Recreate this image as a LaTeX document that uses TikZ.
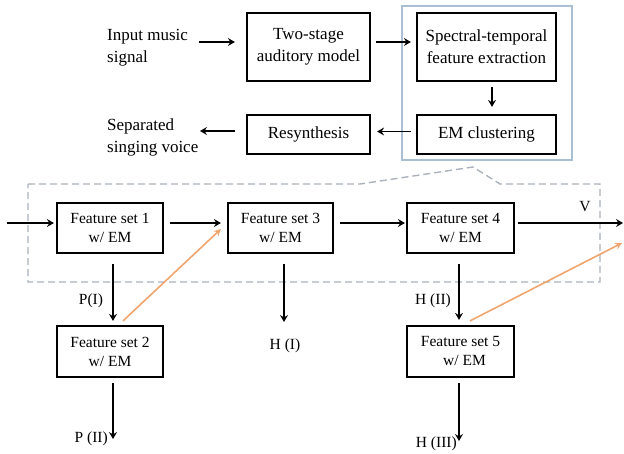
\documentclass[tikz,border=0pt]{standalone}
\usepackage{fontspec}
\setmainfont{Liberation Serif}
\usetikzlibrary{arrows.meta,calc}
\definecolor{orangec}{RGB}{240,165,110}
\definecolor{bluec}{RGB}{170,190,212}
\definecolor{dashc}{RGB}{170,178,188}
\begin{document}
\begin{tikzpicture}[x=1pt,y=-1pt,
  box/.style={draw,line width=2.2pt,align=center,inner sep=0pt,font=\fontsize{17}{22}\selectfont},
  fbox/.style={draw,line width=2.2pt,align=center,inner sep=0pt,font=\fontsize{15.5}{19}\selectfont,minimum width=106pt,minimum height=50pt},
  arr/.style={line width=1.6pt,-{Stealth[length=7pt,width=8pt,inset=2.5pt]}},
  oarr/.style={line width=1.6pt,draw=orangec,-{Stealth[length=7pt,width=7pt,inset=2.5pt]}},
  lbl/.style={font=\fontsize{15.5}{19}\selectfont,inner sep=0pt},
  txt/.style={font=\fontsize{17}{22}\selectfont,align=left,inner sep=0pt}
]
\useasboundingbox (0,0) rectangle (624,454);
% blue frame and dashed zoom region
\draw[bluec,line width=2.2pt] (402,6) rectangle (572,160);
\draw[dashc,line width=1.4pt,dash pattern=on 7pt off 4pt]
  (28,184) -- (360,184) -- (473,167) -- (500,184) -- (600,184) -- (600,282) -- (28,282) -- cycle;

% top row
\node[txt,anchor=west] (inp) at (107,47.5) {Input music\\signal};
\node[box,minimum width=123pt,minimum height=68pt] (two) at (308.5,47) {Two-stage\\auditory model};
\node[box,minimum width=139pt,minimum height=68pt] (spec) at (486.5,47) {Spectral-temporal\\feature extraction};
\node[box,minimum width=139pt,minimum height=39pt] (em) at (486.5,134.5) {EM clustering};
\node[box,minimum width=123pt,minimum height=39pt] (res) at (308.5,134.5) {Resynthesis};
\node[txt,anchor=west] (sep) at (107,137) {Separated\\singing voice};

\coordinate (inpA) at (199,42);
\draw[arr] (inpA) -- ([xshift=-11pt,yshift=5pt]two.west);
\draw[arr] ([xshift=5pt,yshift=5pt]two.east) -- ([xshift=-5pt,yshift=5pt]spec.west);
\draw[arr] ([xshift=5.5pt,yshift=-5pt]spec.south) -- ([xshift=5.5pt,yshift=7pt]em.north);
\draw[arr] ([xshift=-5pt,yshift=3pt]em.west) -- ([xshift=6pt,yshift=3pt]res.east);
\coordinate (sepA) at (200,131);
\draw[arr] ([xshift=-11pt,yshift=3.5pt]res.west) -- (sepA);

% lower part
\node[fbox] (fs1) at (110,228) {Feature set 1\\w/ EM};
\node[fbox,minimum width=105pt] (fs3) at (280.5,228) {Feature set 3\\w/ EM};
\node[fbox,minimum width=107pt] (fs4) at (460.5,228) {Feature set 4\\w/ EM};
\node[fbox,minimum height=51pt] (fs2) at (110,351.5) {Feature set 2\\w/ EM};
\node[fbox,minimum width=107pt,minimum height=51pt] (fs5) at (460.5,351.5) {Feature set 5\\\hspace{8pt}w/ EM};

\coordinate (inL) at (7,223);
\coordinate (outR) at (623,223);
\draw[arr] (inL) -- ([xshift=-2pt,yshift=5pt]fs1.west);
\draw[arr] ([xshift=6pt,yshift=5pt]fs1.east) -- ([xshift=-6pt,yshift=5pt]fs3.west);
\draw[arr] ([xshift=6pt,yshift=5pt]fs3.east) -- ([xshift=-1pt,yshift=5pt]fs4.west);
\draw[arr] ([xshift=3pt,yshift=5pt]fs4.east) -- (outR);
\node[lbl] (V) at (585,207) {V};

\draw[arr] ([xshift=3pt,yshift=-10pt]fs1.south) -- ([xshift=3pt,yshift=4pt]fs2.north);
\node[lbl] (pI) at (91,301) {P(I)};
\coordinate (pIIend) at (113,439);
\draw[arr] ([xshift=3pt,yshift=-5pt]fs2.south) -- (pIIend);
\node[lbl,anchor=east] (pII) at (108,439) {P (II)};

\coordinate (hIend) at (284,322);
\draw[arr] ([xshift=3.5pt,yshift=-10pt]fs3.south) -- (hIend);
\node[lbl] (hI) at (285,346) {H (I)};

\draw[arr] ([xshift=-1.5pt,yshift=-10pt]fs4.south) -- ([xshift=-1.5pt,yshift=5pt]fs5.north);
\node[lbl] (hII) at (433,301) {H (II)};
\coordinate (hIIIend) at (459,441);
\draw[arr] ([xshift=-1.5pt,yshift=-5pt]fs5.south) -- (hIIIend);
\node[lbl,anchor=east] (hIII) at (457,444) {H (III)};

% orange arrows
\draw[oarr] ([xshift=13pt,yshift=4pt]fs2.north) -- ([xshift=-6pt,yshift=-1pt]fs3.west);
\coordinate (oR) at (622,243);
\draw[oarr] ([xshift=9.5pt,yshift=4pt]fs5.north) -- (oR);
\end{tikzpicture}
\end{document}
